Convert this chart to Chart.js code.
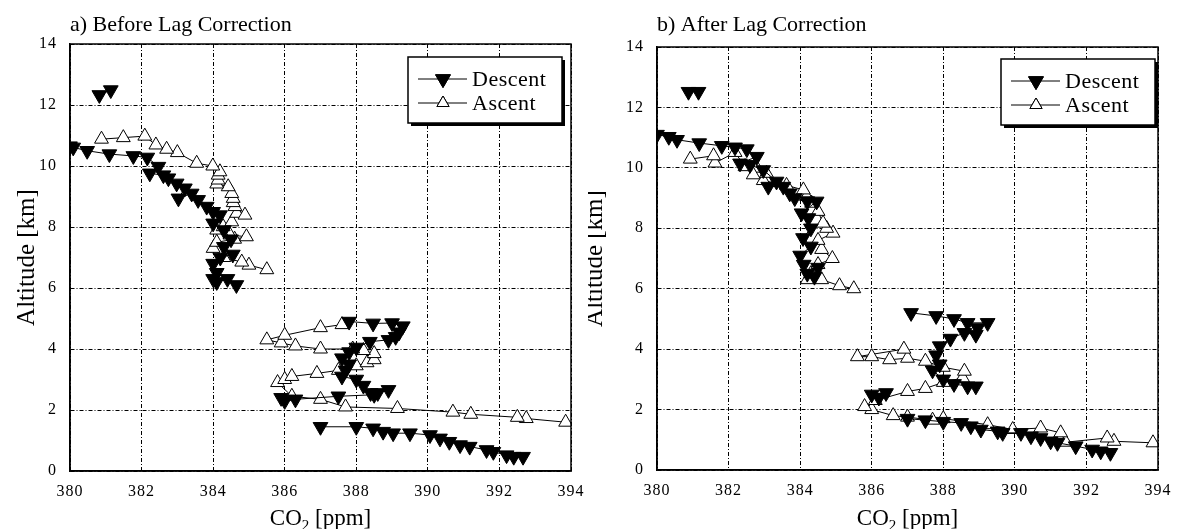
<!DOCTYPE html>
<html>
<head>
<meta charset="utf-8">
<script src="https://cdn.jsdelivr.net/npm/chart.js@4"></script>
<style>
  body { margin: 0; background: #fff; }
  .panel { position: absolute; top: 0; height: 529px; }
</style>
</head>
<body>
<div class="panel" style="left:0;width:590px"><canvas id="lag-before"></canvas></div>
<div class="panel" style="left:588px;width:589px"><canvas id="lag-after"></canvas></div>
<script>
// ticks
const co2Ticks = [380, 382, 384, 386, 388, 390, 392, 394];
const altTicks = [0, 2, 4, 6, 8, 10, 12, 14];

// a) before lag correction -- descent (null = break in line)
const descentBeforeCO2 = [381.14, 380.82, null,
  380.0, 380.09, 380.48, 381.10, 381.77, 382.16, 382.47, 382.23, 382.61, 382.75, 382.98, 383.21,
  383.03, 383.40, 383.58, 383.82, 384.0, 384.19, 384.0, 384.3, 384.5, 384.3, 384.55, 384.2,
  384.0, 384.1, 384.0, 384.1, 384.4, 384.65, null,
  387.8, 388.47, 389.0, 389.3, 389.2, 389.1, 388.9, 388.38, 388.0, 387.8, 387.6, 387.8, 387.7,
  387.6, 388.0, 388.2, 388.4, 388.6, 388.9, 388.5, 387.5, 386.3, 386.0, 385.9, null,
  387.0, 388.0, 388.47, 388.75, 389.03, 389.5, 390.06, 390.34, 390.6, 390.9, 391.17, 391.64,
  391.83, 392.2, 392.4, 392.66];
const descentBeforeAlt = [12.49, 12.33, null,
  10.65, 10.61, 10.50, 10.39, 10.33, 10.28, 9.98, 9.76, 9.70, 9.60, 9.43, 9.27,
  8.94, 9.10, 8.89, 8.67, 8.50, 8.39, 8.12, 7.9, 7.6, 7.35, 7.1, 7.0,
  6.8, 6.5, 6.3, 6.2, 6.3, 6.1, null,
  4.9, 4.84, 4.85, 4.75, 4.55, 4.4, 4.3, 4.24, 4.05, 3.9, 3.7, 3.5, 3.3,
  3.1, 3.0, 2.8, 2.56, 2.56, 2.66, 2.5, 2.45, 2.35, 2.3, 2.4, null,
  1.45, 1.45, 1.40, 1.29, 1.24, 1.24, 1.18, 1.07, 0.96, 0.85, 0.80, 0.69,
  0.63, 0.52, 0.47, 0.47];

// a) before lag correction -- ascent
const ascentBeforeCO2 = [393.85, 392.75, 392.5, 391.2, 390.7, 389.15, 387.7, 387.0, 386.2, 385.8,
  386.0, 386.2, 386.9, 387.5, 388.0, 388.3, 388.5, 388.5, 388.2, 387.9, 387.0, 386.3, 385.9,
  385.5, 386.0, 387.0, 387.6, null,
  385.5, 385.0, 384.8, 384.3, 384.0, 384.1, 384.6, 384.93, 384.47, 384.10, 384.28, 384.52,
  384.66, 384.89, 384.61, 384.56, 384.56, 384.52, 384.42, 384.10, 384.14, 384.14, 384.19,
  383.99, 383.54, 383.0, 382.70, 382.40, 382.09, 381.49, 380.88];
const ascentBeforeAlt = [1.6, 1.72, 1.76, 1.86, 1.93, 2.05, 2.1, 2.35, 2.45, 2.9,
  3.0, 3.1, 3.2, 3.3, 3.45, 3.55, 3.65, 3.85, 3.95, 4.0, 4.0, 4.1, 4.2,
  4.3, 4.45, 4.7, 4.8, null,
  6.6, 6.75, 6.85, 7.0, 7.3, 7.5, 7.6, 7.68, 7.74, 7.90, 8.01, 8.17,
  8.45, 8.39, 8.67, 8.80, 8.94, 9.10, 9.32, 9.41, 9.54, 9.70, 9.81,
  10.0, 10.09, 10.44, 10.55, 10.69, 10.98, 10.93, 10.88];

// b) after lag correction -- descent
const descentAfterCO2 = [380.88, 381.16, null,
  380.0, 380.33, 380.56, 381.18, 381.81, 382.18, 382.51, 382.79, 382.32, 382.6, 382.97, 383.34,
  383.11, 383.53, 383.71, 383.85, 384.2, 384.46, 384.04, 384.23, 384.3, 384.08, 384.3, 384.0,
  384.1, 384.2, 384.5, 384.4, null,
  387.1, 387.8, 388.3, 388.68, 389.24, 388.96, 388.91, 388.59, 388.2, 387.9, 387.8, 387.9,
  387.7, 388.0, 388.3, 388.68, 388.91, null,
  386.4, 386.0, 386.2, null,
  387.0, 387.5, 388.0, 388.5, 388.77, 389.05, 389.52, 389.66, 390.17, 390.45, 390.72, 391.0,
  391.19, 391.7, 392.16, 392.4, 392.67];
const descentAfterAlt = [12.52, 12.52, null,
  11.1, 11.03, 10.93, 10.82, 10.73, 10.68, 10.62, 10.37, 10.15, 10.1, 9.93, 9.55,
  9.38, 9.38, 9.16, 9.0, 8.9, 8.89, 8.50, 8.34, 8.0, 7.68, 7.4, 7.1,
  6.8, 6.5, 6.7, 6.4, null,
  5.2, 5.1, 5.0, 4.87, 4.87, 4.70, 4.48, 4.54, 4.35, 4.1, 3.8, 3.5,
  3.3, 3.0, 2.85, 2.77, 2.77, null,
  2.55, 2.5, 2.4, null,
  1.7, 1.65, 1.6, 1.56, 1.45, 1.34, 1.28, 1.23, 1.23, 1.12, 1.06, 0.95,
  0.90, 0.79, 0.68, 0.62, 0.57];

// b) after lag correction -- ascent
const ascentAfterCO2 = [393.86, 392.77, 392.58, 391.42, 391.28, 390.72, 389.94, 389.24, 388.0,
  387.7, 387.0, 386.6, 386.0, 385.8, 386.1, 387.0, 387.5, 388.0, 388.54, 388.59, 388.0, 387.5,
  387.0, 386.5, 386.0, 385.6, 386.9, null,
  385.5, 385.1, 384.6, 384.2, 384.3, 384.5, 384.9, 384.6, 384.5, 384.92, 384.74, 384.64,
  384.50, 384.32, 384.18, 384.09, 383.62, 382.97, 383.06, 382.79, 382.69, 382.46, 382.18,
  381.62, 381.58, 380.93];
const ascentAfterAlt = [0.90, 0.95, 1.06, 0.92, 1.23, 1.39, 1.34, 1.50, 1.7,
  1.65, 1.75, 1.8, 2.0, 2.1, 2.3, 2.6, 2.7, 2.9, 3.05, 3.27, 3.4, 3.6,
  3.7, 3.65, 3.75, 3.75, 4.0, null,
  6.0, 6.1, 6.3, 6.3, 6.5, 6.8, 7.0, 7.3, 7.6, 7.84, 8.0, 8.17,
  8.56, 8.83, 9.05, 9.27, 9.42, 9.58, 9.82, 9.99, 9.77, 10.04, 10.51,
  10.16, 10.40, 10.29];

const SERIF = "'Liberation Serif', 'Times New Roman', serif";

function pairs(xs, ys) {
  return xs.map((x, i) => ({ x: x, y: ys[i] }));
}

// spaced-out tick digits like the original figure
const spacingPlugin = {
  id: "spacing",
  beforeDraw(chart) {
    chart.ctx.letterSpacing = "1px";
  }
};

// frame, panel title, axis titles and boxed legend
const decorPlugin = {
  id: "decor",
  afterDraw(chart, args, opts) {
    const ctx = chart.ctx;
    const a = chart.chartArea;
    ctx.save();
    ctx.letterSpacing = "0px";
    ctx.strokeStyle = "#000";
    ctx.lineWidth = 1.5;
    ctx.strokeRect(a.left, a.top, a.right - a.left, a.bottom - a.top);

    ctx.fillStyle = "#000";
    ctx.textBaseline = "alphabetic";
    ctx.textAlign = "left";
    ctx.font = "22px " + SERIF;
    ctx.fillText(opts.title, a.left, 31);

    // y title
    ctx.save();
    ctx.translate(opts.yTitleX, (a.top + a.bottom) / 2);
    ctx.rotate(-Math.PI / 2);
    ctx.textAlign = "center";
    ctx.font = "25px " + SERIF;
    ctx.fillText("Altitude [km]", 0, 0);
    ctx.restore();

    // x title with subscript
    ctx.font = "23px " + SERIF;
    const w1 = ctx.measureText("CO").width;
    ctx.font = "15px " + SERIF;
    const w2 = ctx.measureText("2").width;
    ctx.font = "23px " + SERIF;
    const w3 = ctx.measureText(" [ppm]").width;
    let x0 = (a.left + a.right) / 2 - (w1 + w2 + w3) / 2;
    const yb = 525;
    ctx.fillText("CO", x0, yb);
    ctx.font = "15px " + SERIF;
    ctx.fillText("2", x0 + w1, yb + 5);
    ctx.font = "23px " + SERIF;
    ctx.fillText(" [ppm]", x0 + w1 + w2, yb);

    // legend box
    const lx = opts.legendX, ly = opts.legendY, lw = 154, lh = 66;
    ctx.fillStyle = "#000";
    ctx.fillRect(lx + 3, ly + 3, lw, lh);
    ctx.fillStyle = "#fff";
    ctx.fillRect(lx, ly, lw, lh);
    ctx.strokeStyle = "#000";
    ctx.lineWidth = 1.5;
    ctx.strokeRect(lx, ly, lw, lh);
    const rows = [
      { label: "Descent", ds: chart.data.datasets[0], dy: 22, r: 8.5 },
      { label: "Ascent", ds: chart.data.datasets[1], dy: 46, r: 7 }
    ];
    rows.forEach((row) => {
      const cy = ly + row.dy;
      ctx.strokeStyle = "#000";
      ctx.lineWidth = 1;
      ctx.beginPath();
      ctx.moveTo(lx + 10, cy);
      ctx.lineTo(lx + 59, cy);
      ctx.stroke();
      Chart.helpers.drawPoint(ctx, {
        pointStyle: "triangle",
        rotation: row.ds.pointRotation,
        radius: row.r,
        borderWidth: 1
      }, lx + 35, cy);
      ctx.fillStyle = row.ds.pointBackgroundColor;
      ctx.strokeStyle = "#000";
      ctx.fill();
      ctx.stroke();
      ctx.fillStyle = "#000";
      ctx.font = "22px " + SERIF;
      ctx.letterSpacing = "0.5px";
      ctx.textBaseline = "middle";
      ctx.fillText(row.label, lx + 64, cy + 1);
      ctx.letterSpacing = "0px";
    });
    ctx.restore();
  }
};

function makePanel(canvas, descX, descY, ascX, ascY, cfg) {
  return new Chart(canvas, {
    type: "scatter",
    data: {
      datasets: [
        {
          label: "Descent",
          data: pairs(descX, descY),
          showLine: true,
          spanGaps: false,
          borderColor: "#000",
          borderWidth: 1,
          pointStyle: "triangle",
          pointRotation: 180,
          pointRadius: 8.5,
          pointBackgroundColor: "#000",
          pointBorderColor: "#000",
          pointBorderWidth: 1
        },
        {
          label: "Ascent",
          data: pairs(ascX, ascY),
          showLine: true,
          spanGaps: false,
          borderColor: "#000",
          borderWidth: 1,
          pointStyle: "triangle",
          pointRotation: 0,
          pointRadius: 8,
          pointBackgroundColor: "#fff",
          pointBorderColor: "#000",
          pointBorderWidth: 1
        }
      ]
    },
    options: {
      responsive: true,
      maintainAspectRatio: false,
      animation: false,
      events: [],
      layout: {
        padding: { left: 0, right: cfg.padRight, top: cfg.padTop, bottom: 0 }
      },
      scales: {
        x: {
          type: "linear",
          min: co2Ticks[0],
          max: co2Ticks[co2Ticks.length - 1],
          afterBuildTicks: (s) => { s.ticks = co2Ticks.map((v) => ({ value: v })); },
          afterFit: (s) => {
            s.height = cfg.xAxisH;
            s.paddingLeft = 0;
            s.paddingRight = 0;
          },
          grid: { color: "#000", lineWidth: 1, drawTicks: false },
          border: { display: true, color: "#000", width: 1.5, dash: [4, 2, 1, 2] },
          ticks: {
            color: "#000",
            padding: 11,
            font: { family: SERIF, size: 16 }
          }
        },
        y: {
          type: "linear",
          min: altTicks[0],
          max: altTicks[altTicks.length - 1],
          afterBuildTicks: (s) => { s.ticks = altTicks.map((v) => ({ value: v })); },
          afterFit: (s) => {
            s.width = cfg.yAxisW;
            s.paddingTop = 0;
            s.paddingBottom = 0;
          },
          grid: { color: "#000", lineWidth: 1, drawTicks: false },
          border: { display: true, color: "#000", width: 1.5, dash: [4, 2, 1, 2] },
          ticks: {
            color: "#000",
            padding: 13,
            font: { family: SERIF, size: 16 }
          }
        }
      },
      plugins: {
        legend: { display: false },
        title: { display: false },
        tooltip: { enabled: false },
        decor: {
          title: cfg.title,
          yTitleX: cfg.yTitleX,
          legendX: cfg.legendX,
          legendY: cfg.legendY
        }
      }
    },
    plugins: [spacingPlugin, decorPlugin]
  });
}

makePanel(document.getElementById("lag-before"),
  descentBeforeCO2, descentBeforeAlt, ascentBeforeCO2, ascentBeforeAlt,
  { title: "a) Before Lag Correction", padTop: 44, padRight: 19, xAxisH: 58, yAxisW: 70,
    yTitleX: 34, legendX: 408, legendY: 57 });

makePanel(document.getElementById("lag-after"),
  descentAfterCO2, descentAfterAlt, ascentAfterCO2, ascentAfterAlt,
  { title: "b) After Lag Correction", padTop: 47, padRight: 19, xAxisH: 59, yAxisW: 69,
    yTitleX: 14, legendX: 413, legendY: 59 });
</script>
</body>
</html>
